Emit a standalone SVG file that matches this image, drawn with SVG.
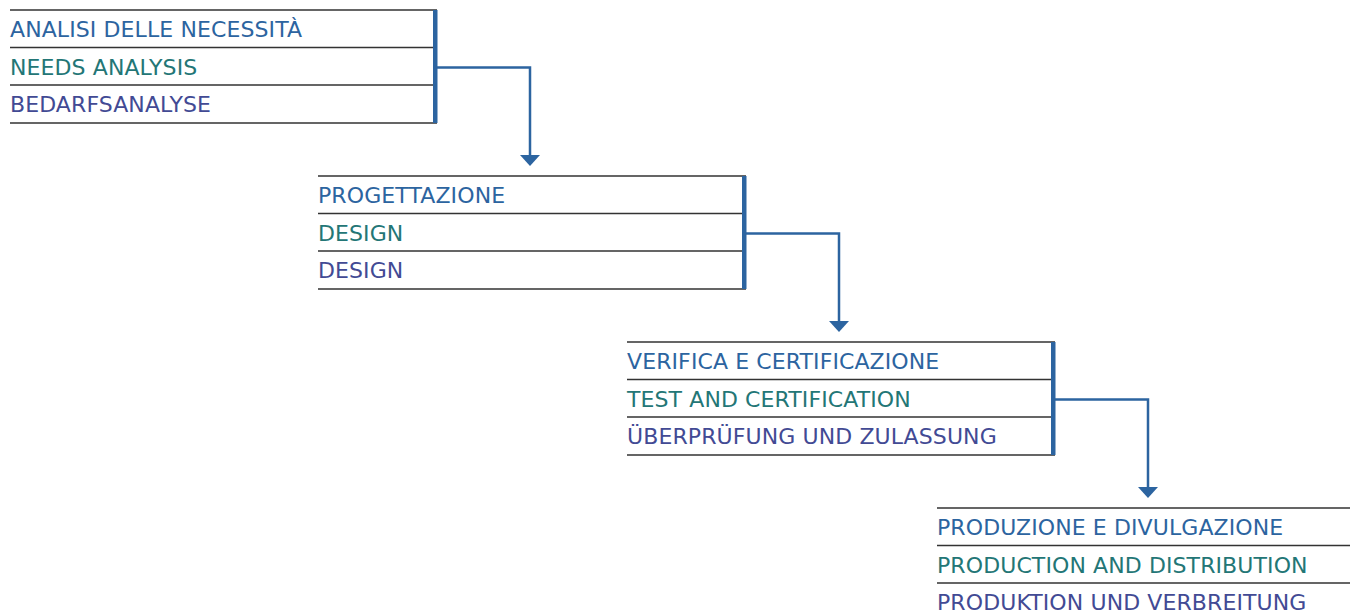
<svg xmlns="http://www.w3.org/2000/svg" width="1350" height="616" viewBox="0 0 1350 616">
<style>
.t{font-family:"DejaVu Sans",Verdana,sans-serif;font-size:22px;letter-spacing:0.1px}
.c1{fill:#2c64a0}.c2{fill:#237676}.c3{fill:#424a94}
.rl{stroke:#333;stroke-width:1.5;fill:none}
.bar{fill:#2c64a0}
.con{stroke:#2c64a0;stroke-width:2.5;fill:none}
.ah{fill:#2c64a0}
</style>
<rect width="1350" height="616" fill="#fff"/>
<g id="node1">
<path class="rl" d="M10 10H437M10 47.5H437M10 85H437M10 123H437"/>
<rect class="bar" x="433" y="10" width="4.5" height="113"/>
<text class="t c1" x="10" y="37">ANALISI DELLE NECESSITÀ</text>
<text class="t c2" x="10" y="75">NEEDS ANALYSIS</text>
<text class="t c3" x="10" y="112">BEDARFSANALYSE</text>
</g>
<g id="node2">
<path class="rl" d="M318 176H746M318 213.5H746M318 251H746M318 289H746"/>
<rect class="bar" x="742" y="176" width="4.5" height="113"/>
<text class="t c1" x="318" y="203">PROGETTAZIONE</text>
<text class="t c2" x="318" y="241">DESIGN</text>
<text class="t c3" x="318" y="278">DESIGN</text>
</g>
<g id="node3">
<path class="rl" d="M627 342H1055M627 379.5H1055M627 417H1055M627 455H1055"/>
<rect class="bar" x="1051" y="342" width="4.5" height="113"/>
<text class="t c1" x="627" y="369">VERIFICA E CERTIFICAZIONE</text>
<text class="t c2" x="627" y="407">TEST AND CERTIFICATION</text>
<text class="t c3" x="627" y="444">ÜBERPRÜFUNG UND ZULASSUNG</text>
</g>
<g id="node4">
<path class="rl" d="M937 508H1350M937 545.5H1350M937 583H1350"/>
<text class="t c1" x="937" y="535">PRODUZIONE E DIVULGAZIONE</text>
<text class="t c2" x="937" y="573">PRODUCTION AND DISTRIBUTION</text>
<text class="t c3" x="937" y="610">PRODUKTION UND VERBREITUNG</text>
</g>
<g id="connectors">
<path class="con" d="M437 67.5H530V156"/>
<path class="ah" d="M520 155H540L530 166Z"/>
<path class="con" d="M746 233.5H839V322"/>
<path class="ah" d="M829 321H849L839 332Z"/>
<path class="con" d="M1055 399.5H1148V488"/>
<path class="ah" d="M1138 487H1158L1148 498Z"/>
</g>
</svg>
